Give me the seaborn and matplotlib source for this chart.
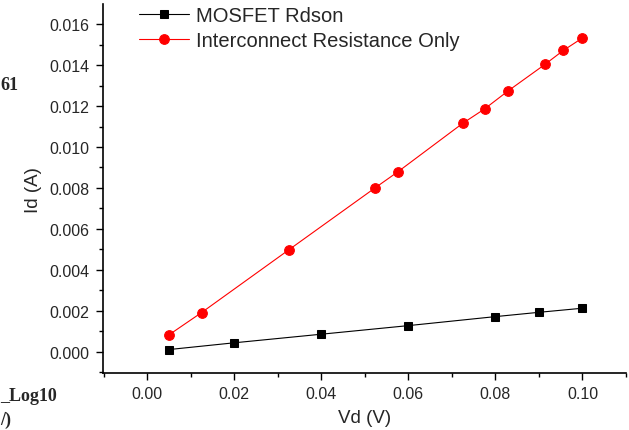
import matplotlib
matplotlib.use('Agg')
import matplotlib.pyplot as plt
import seaborn as sns
from matplotlib.ticker import MultipleLocator

# data
vd_mosfet = [0.005, 0.02, 0.04, 0.06, 0.08, 0.09, 0.10]
id_mosfet = [0.00010, 0.00043, 0.00085, 0.00127, 0.00171, 0.00192, 0.00212]

vd_inter = [0.005, 0.0125, 0.0325, 0.0524, 0.0576, 0.0725, 0.0775, 0.0829, 0.0914, 0.0956, 0.10]
id_inter = [0.00082, 0.00191, 0.00497, 0.00801, 0.00879, 0.01116, 0.01186, 0.01274, 0.01404, 0.01472, 0.01533]

sns.set_style('ticks')
plt.rcParams['font.family'] = ['Liberation Sans', 'DejaVu Sans']

fig = plt.figure(figsize=(6.29, 4.31), dpi=100)
ax = fig.add_axes([0.1642, 0.1316, 0.831, 0.8568])

sns.lineplot(x=vd_mosfet, y=id_mosfet, ax=ax, color='black', marker='s',
             markersize=6, mec='black', mfc='black', linewidth=0.8,
             label='MOSFET Rdson')
sns.lineplot(x=vd_inter, y=id_inter, ax=ax, color='red', marker='o',
             markersize=7, mec='red', mfc='red', linewidth=0.8,
             label='Interconnect Resistance Only')

ax.set_xlim(-0.0101, 0.1100)
ax.set_ylim(-0.00106, 0.01699)
ax.xaxis.set_major_locator(MultipleLocator(0.02))
ax.xaxis.set_minor_locator(MultipleLocator(0.01))
ax.yaxis.set_major_locator(MultipleLocator(0.002))
ax.yaxis.set_minor_locator(MultipleLocator(0.001))
ax.xaxis.set_major_formatter(plt.FormatStrFormatter('%.2f'))
ax.yaxis.set_major_formatter(plt.FormatStrFormatter('%.3f'))

sns.despine(ax=ax)
for s in ['left', 'bottom']:
    ax.spines[s].set_linewidth(1.2)
    ax.spines[s].set_color('black')
ax.tick_params(which='major', direction='out', length=5, width=1.0,
               labelsize=11.5, pad=5, color='black')
ax.tick_params(which='minor', direction='out', length=3, width=1.0, color='black')
ax.tick_params(axis='x', which='major', pad=4)

ax.set_xlabel('Vd (V)', fontsize=13.5, labelpad=6)
ax.set_ylabel('Id (A)', fontsize=13.5, labelpad=5)

ax.legend(loc='upper left', bbox_to_anchor=(139 / 629, 1 - 7 / 431),
          bbox_transform=fig.transFigure, frameon=False, fontsize=14.5,
          borderpad=0, borderaxespad=0, handlelength=2.5,
          handletextpad=0.35, labelspacing=0.28)

# clipped leftovers at the left edge of the reference
serif = ['Liberation Serif', 'DejaVu Serif']
fig.text(0.0, 1 - 86 / 431, '61', family=serif,
         fontweight='bold', fontsize=13, va='center', ha='left')
fig.text(0.0, 1 - 397 / 431, '_Log10', family=serif,
         fontweight='bold', fontsize=13, va='center', ha='left')
fig.text(0.0, 1 - 420 / 431, '/)', family=serif,
         fontweight='bold', fontsize=13, va='center', ha='left')

fig.savefig('out.png', dpi=100)
